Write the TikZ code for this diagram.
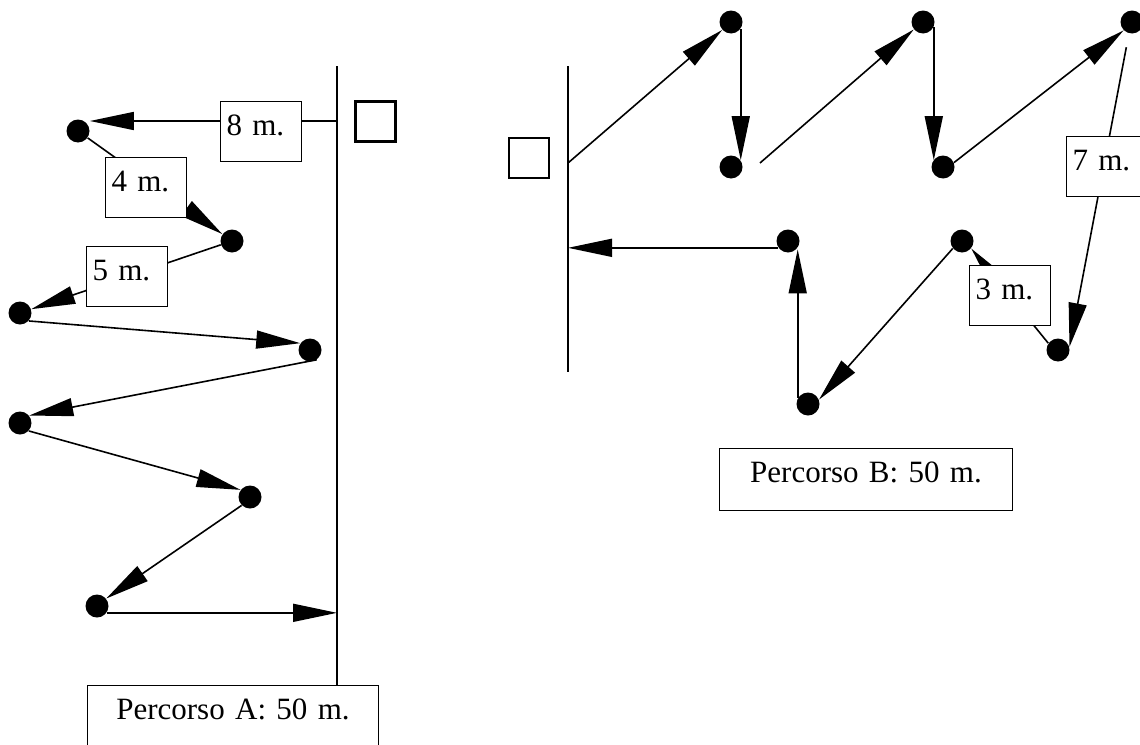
\documentclass[tikz,border=0pt]{standalone}
\usepackage{fontspec}
\setmainfont{Liberation Serif}
\usetikzlibrary{arrows.meta, positioning}
\tikzset{
  punto/.style={circle, fill=black, inner sep=0pt, minimum size=11.5pt},
  freccia/.style={-{Triangle[length=22pt, width=9pt]}, line width=0.8pt},
  tratto/.style={line width=0.8pt},
  muro/.style={line width=1.2pt},
  casella/.style={rectangle, draw=black, line width=1.2pt, minimum size=20pt, inner sep=0pt},
  etichetta/.style={
    rectangle, draw=black, line width=0.5pt, fill=white, anchor=north west,
    text width=34.5pt, align=left, inner xsep=3pt, inner ysep=0pt,
    text height=17pt, text depth=13pt, font=\fontsize{15.5}{18}\selectfont
  },
  cartello/.style={etichetta, align=center, text depth=14pt}
}

\begin{document}
\begin{tikzpicture}[x=0.5pt, y=-0.5pt]
    \useasboundingbox (0,0) rectangle (1140,744);

    % Percorso A
    \coordinate (muroAtop) at (337,66);
    \coordinate (muroAbot) at (337,685);
    \coordinate (a0) at (337,121);
    \coordinate (a8) at (337,613);
    \draw[muro] (muroAtop) -- (muroAbot);
    \node[casella] (startA) at (375.5,121.5) {};

    \node[punto] (A1) at (78,131) {};
    \node[punto] (A2) at (232,241) {};
    \node[punto] (A3) at (20,313) {};
    \node[punto] (A4) at (310,350) {};
    \node[punto] (A5) at (20,423) {};
    \node[punto] (A6) at (250,497) {};
    \node[punto] (A7) at (97,606) {};

    \draw[freccia] (a0) -- (a0 -| A1.east);
    \draw[freccia] (A1) -- (A2);
    \draw[freccia] (A2) -- (A3);
    \draw[freccia] (A3.-42) -- (A4.145);
    \draw[freccia] (A4.-55) -- (A5.39);
    \draw[freccia] (A5.-42) -- (A6.143);
    \draw[freccia] (A6.-135) -- (A7.39);
    \draw[freccia] (A7.-35) -- (A7.-35 -| a8);

    \node[etichetta] (l8) at (220,101) {8 m.};
    \node[etichetta] (l4) at (105,157) {4 m.};
    \node[etichetta] (l5) at (86,246) {5 m.};
    \node[cartello, text width=139.5pt] (totA) at (87,685) {Percorso A: 50 m.};

    % Percorso B
    \coordinate (muroBtop) at (568,66);
    \coordinate (muroBbot) at (568,372);
    \coordinate (b0) at (568,163);
    \coordinate (b10) at (568,248);
    \coordinate (bgap) at (760,163);
    \draw[muro] (muroBtop) -- (muroBbot);
    \node[casella] (startB) at (529,158) {};

    \node[punto] (B1) at (731,22) {};
    \node[punto] (B2) at (731,167) {};
    \node[punto] (B3) at (923,22) {};
    \node[punto] (B4) at (943,167) {};
    \node[punto] (B5) at (1132,22) {};
    \node[punto] (B6) at (1058,350) {};
    \node[punto] (B7) at (962,241) {};
    \node[punto] (B8) at (808,404) {};
    \node[punto] (B9) at (788,241) {};

    \draw[freccia] (b0) -- (B1.-138);
    \draw[freccia] (B1.-35) -- (B1.-35 |- B2.35);
    \draw[freccia] (bgap) -- (B3.-141);
    \draw[freccia] (B3.-25) -- (B3.-25 |- B4.145);
    \draw[freccia] (B4.22) -- (B5.-135);
    \draw[freccia, shorten <=7pt] (B5.-105) -- (B6.15);
    \draw[freccia] (B6.145) -- (B7.-39);
    \draw[freccia] (B7.-141) -- (B8.22);
    \draw[freccia] (B8.150) -- (B8.150 |- B9.-45);
    \draw[freccia] (B9.-145) -- (B9.-145 -| b10);

    \node[etichetta] (l7) at (1066,136) {7 m.};
    \node[etichetta] (l3) at (969,265) {3 m.};
    \node[cartello, text width=140.5pt] (totB) at (719,448) {Percorso B: 50 m.};

\end{tikzpicture}
\end{document}
